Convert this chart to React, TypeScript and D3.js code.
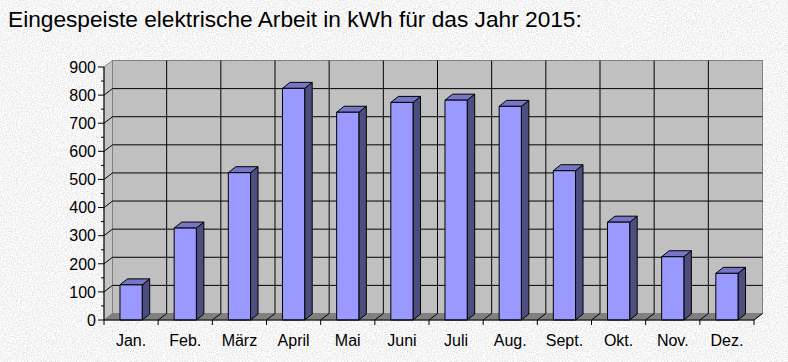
import React from 'react';
import { scaleBand, scaleLinear, range } from 'd3';

const months = ['Jan.', 'Feb.', 'März', 'April', 'Mai', 'Juni', 'Juli', 'Aug.', 'Sept.', 'Okt.', 'Nov.', 'Dez.'];
const kwh = [125, 327, 524, 824, 739, 774, 782, 760, 531, 348, 225, 166];
const yTicks = [0, 100, 200, 300, 400, 500, 600, 700, 800, 900];
const title = 'Eingespeiste elektrische Arbeit in kWh für das Jahr 2015:';

const W = 788;
const H = 362;
const DX = 8.5;   // wall depth
const DY = -6.5;
const BDX = 7.5;  // bar depth
const BDY = -6;

function App() {
    const x = scaleBand<string>().domain(months).range([104, 754]);
    const y = scaleLinear().domain([0, 900]).range([320, 67]);
    const bw = x.bandwidth() * 0.41;
    const bounds = [...months.map(m => x(m) as number), 754];
    const minor = range(50, 900, 100);
    const pts = (p: number[][]) => p.map(d => d.join(',')).join(' ');

    return (
        <svg width={W} height={H} style={{ position: 'absolute', left: 0, top: 0, display: 'block' }}
            fontFamily="Arial, 'Liberation Sans', sans-serif">
            <defs>
                <filter id="granite" x="0" y="0" width="100%" height="100%">
                    <feTurbulence type="fractalNoise" baseFrequency="0.8" numOctaves="3" seed="3" />
                    <feColorMatrix type="matrix"
                        values="0.55 0 0 0 0.64  0.55 0 0 0 0.64  0.55 0 0 0 0.64  0 0 0 0 1" />
                </filter>
            </defs>
            <rect width={W} height={H} filter="url(#granite)" />

            <text x={8} y={27} fontSize={22.7} fill="#000">{title}</text>

            {/* side wall */}
            <polygon points={pts([[104, y(0)], [104, y(900)], [104 + DX, y(900) + DY], [104 + DX, y(0) + DY]])}
                fill="#c4c4c4" stroke="#808080" />
            {/* back wall */}
            <rect x={104 + DX} y={y(900) + DY} width={650} height={y(0) - y(900)} fill="#c0c0c0" stroke="#808080" />
            {/* floor */}
            <polygon points={pts([[104, y(0)], [754, y(0)], [754 + DX, y(0) + DY], [104 + DX, y(0) + DY]])}
                fill="#808080" stroke="#808080" />

            {/* gridlines */}
            {yTicks.filter(v => v > 0 && v < 900).map(v => (
                <g key={'g' + v} stroke="#000">
                    <line x1={104 + DX} x2={754 + DX} y1={y(v) + DY} y2={y(v) + DY} />
                    <line x1={104} x2={104 + DX} y1={y(v)} y2={y(v) + DY} />
                </g>
            ))}
            {bounds.slice(1, -1).map((b, i) => (
                <g key={'v' + i} stroke="#000">
                    <line x1={b + DX} x2={b + DX} y1={y(900) + DY} y2={y(0) + DY} />
                    <line x1={b} x2={b + DX} y1={y(0)} y2={y(0) + DY} />
                </g>
            ))}
            <line x1={754} x2={754 + DX} y1={y(0)} y2={y(0) + DY} stroke="#000" />

            {/* bars */}
            {months.map((m, i) => {
                const cx = (x(m) as number) + x.bandwidth() / 2;
                const x0 = cx - bw / 2;
                const x1 = cx + bw / 2;
                const yt = y(kwh[i]);
                const yb = y(0);
                return (
                    <g key={m} stroke="#000" strokeWidth={1} strokeLinejoin="round">
                        <polygon points={pts([[x1, yt], [x1 + BDX, yt + BDY], [x1 + BDX, yb + BDY], [x1, yb]])} fill="#4d4d80" />
                        <polygon points={pts([[x0, yt], [x0 + BDX, yt + BDY], [x1 + BDX, yt + BDY], [x1, yt]])} fill="#7676c6" />
                        <rect x={x0} y={yt} width={bw} height={yb - yt} fill="#9999ff" />
                    </g>
                );
            })}

            {/* axes */}
            <line x1={104} x2={104} y1={y(0)} y2={y(900)} stroke="#000" />
            <line x1={104} x2={754} y1={y(0)} y2={y(0)} stroke="#000" />
            {yTicks.map(v => (
                <g key={'t' + v}>
                    <line x1={98} x2={104} y1={y(v)} y2={y(v)} stroke="#000" />
                    <text x={96} y={y(v)} dy="0.36em" textAnchor="end" fontSize={16} fill="#000">{v}</text>
                </g>
            ))}
            {minor.map(v => (
                <line key={'m' + v} x1={101} x2={104} y1={y(v)} y2={y(v)} stroke="#000" />
            ))}
            {bounds.map((b, i) => (
                <line key={'xt' + i} x1={b} x2={b} y1={y(0)} y2={y(0) + 5} stroke="#000" />
            ))}
            {months.map(m => (
                <text key={'l' + m} x={(x(m) as number) + x.bandwidth() / 2} y={346} textAnchor="middle" fontSize={16} fill="#000">{m}</text>
            ))}
        </svg>
    );
}

export default App;
